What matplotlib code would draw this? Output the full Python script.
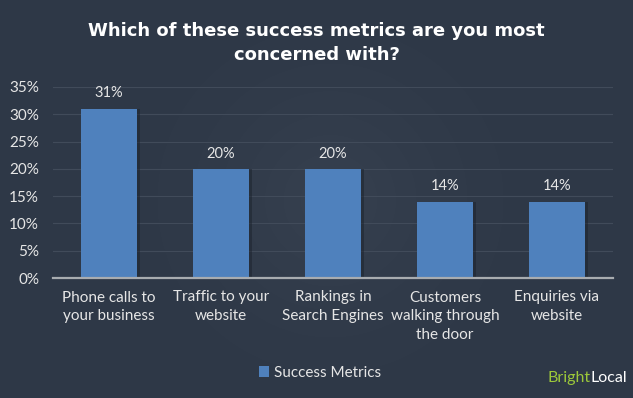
import matplotlib
matplotlib.use("Agg")
import matplotlib.pyplot as plt
import numpy as np
from matplotlib.ticker import MultipleLocator, FuncFormatter

categories = ["Phone calls to\nyour business", "Traffic to your\nwebsite",
              "Rankings in\nSearch Engines", "Customers\nwalking through\nthe door",
              "Enquiries via\nwebsite"]
values = [0.31, 0.20, 0.20, 0.14, 0.14]
series_name = "Success Metrics"
title = "Which of these success metrics are you most\nconcerned with?"

bg = "#2e3847"
bar_color = "#4f81bd"
text_color = "#e6e6e6"

W, H = 633, 398
fig = plt.figure(figsize=(W / 100, H / 100), dpi=100, facecolor=bg)

# faint radial glow in the background
bgax = fig.add_axes([0, 0, 1, 1], zorder=-10)
yy, xx = np.mgrid[0:H, 0:W]
r = np.hypot(xx - 330, yy - 200)
glow = np.clip(1 - r / 260, 0, 1) ** 2
base = np.array([0x2e, 0x38, 0x47]) / 255
img = base[None, None, :] + glow[..., None] * np.array([0.035, 0.035, 0.035])
bgax.imshow(img, extent=[0, W, H, 0], aspect="auto")
bgax.axis("off")

ax = fig.add_axes([53 / W, 1 - 278 / H, 560 / W, 191 / H])
ax.set_facecolor("none")

x = np.arange(len(categories))
# soft shadow then the bars
ax.bar(x + 0.025, values, width=0.5, color="#1c232d", alpha=0.5, zorder=2)
bars = ax.bar(x, values, width=0.5, color=bar_color, zorder=3, label=series_name)

for b, v in zip(bars, values):
    ax.annotate(f"{v * 100:.0f}%", (b.get_x() + b.get_width() / 2, v),
                xytext=(0, 6), textcoords="offset points", ha="center", va="bottom",
                color=text_color, fontsize=10.5, family="Lato")

ax.set_xlim(-0.5, len(categories) - 0.5)
ax.set_ylim(0, 0.35)
ax.yaxis.set_major_locator(MultipleLocator(0.05))
ax.yaxis.set_major_formatter(FuncFormatter(lambda v, p: f"{v * 100:.0f}%"))
ax.grid(axis="y", color="#414b5a", lw=0.8, zorder=0)
ax.set_axisbelow(True)

for s in ["top", "right", "left"]:
    ax.spines[s].set_visible(False)
ax.spines["bottom"].set_color("#a8acb0")
ax.spines["bottom"].set_linewidth(1.6)
ax.spines["bottom"].set_zorder(4)

ax.set_xticks(x)
ax.set_xticklabels(categories, linespacing=1.45)
ax.tick_params(axis="x", length=0, pad=9, labelcolor=text_color, labelsize=11)
ax.tick_params(axis="y", length=0, pad=10, labelcolor=text_color, labelsize=11)
for t in ax.get_xticklabels() + ax.get_yticklabels():
    t.set_family("Lato")

fig.text(0.5, 1 - 43 / H, title, ha="center", va="center", color="white",
         fontsize=13, fontweight="bold", family="DejaVu Sans", linespacing=1.5)

leg = fig.legend(handles=[bars], labels=[series_name], loc="center",
                 bbox_to_anchor=(320 / W, 1 - 373 / H), frameon=False,
                 handlelength=0.7, handleheight=0.7, handletextpad=0.3,
                 prop={"family": "Lato", "size": 11})
for t in leg.get_texts():
    t.set_color(text_color)

# logo: "Local" anchored right, "Bright" placed just left of it
local = fig.text(627 / W, 1 - 378 / H, "Local", ha="right", va="center", color="white",
                 fontsize=11.5, family="Lato")
fig.canvas.draw()
bb = local.get_window_extent()
fig.text(bb.x0 / W, 1 - 378 / H, "Bright", ha="right", va="center", color="#9cc83a",
         fontsize=11.5, family="Lato")

fig.savefig("out.png", dpi=100, facecolor=bg)
